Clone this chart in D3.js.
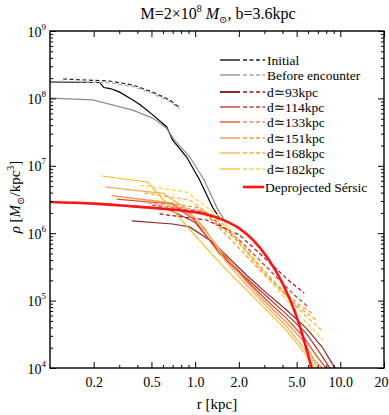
<!DOCTYPE html>
<html>
<head>
<meta charset="utf-8">
<script src="https://cdn.jsdelivr.net/npm/d3@7"></script>
<style>
  body { margin: 0; background: #fff; }
  svg text { font-family: "Liberation Serif", "Times New Roman", "DejaVu Serif", serif; fill: #000; }
</style>
</head>
<body>
<div id="chart"></div>
<script>
// profiles: [r (kpc), rho (Msun/kpc^3)]
var initialSolid = [[0.1, 1.75e8], [0.22, 1.72e8], [0.235, 1.45e8], [0.26, 1.4e8], [0.3, 1.25e8], [0.372, 9.5e7], [0.42, 8.0e7], [0.51, 5.7e7], [0.636, 3.8e7], [0.7, 2.4e7], [0.873, 1.35e7], [1.072, 6.2e6], [1.32, 2.4e6], [1.47, 1.7e6]]
var initialDashed = [[0.123, 1.94e8], [0.258, 1.81e8], [0.372, 1.58e8], [0.51, 1.24e8], [0.667, 9.5e7], [0.74, 8.0e7], [0.782, 7.3e7]]
var beforeSolid = [[0.1, 1.01e8], [0.197, 9.5e7], [0.372, 6.7e7], [0.51, 5.1e7], [0.636, 3.6e7], [0.72, 2.4e7], [0.92, 1.35e7], [1.15, 6.2e6], [1.44, 2.2e6], [1.62, 1.47e6]]
var beforeDashed = [[0.117, 1.8e8], [0.258, 1.7e8], [0.372, 1.5e8], [0.51, 1.18e8], [0.667, 9.0e7], [0.782, 7.0e7]]

var d93Solid = [[0.366, 1.52e6], [0.7, 1.37e6], [0.915, 1.24e6], [1.317, 7.4e5], [2.254, 2.4e5], [3.093, 1.3e5], [4.245, 7.3e4], [5.823, 3.9e4], [7.5, 2.05e4], [9.07, 1.04e4], [9.5, 9e3]]
var d93Dashed = [[0.569, 1.93e6], [1.198, 1.57e6], [2.018, 9.4e5], [3.243, 3.7e5], [4.449, 1.95e5], [5.642, 1.3e5]]
var d114Solid = [[0.327, 2.62e6], [0.667, 2.21e6], [0.991, 1.47e6], [1.471, 5.3e5], [2.254, 2.16e5], [3.093, 1.17e5], [4.245, 6.3e4], [5.823, 3.3e4], [7.153, 1.73e4], [8.377, 1.04e4], [8.8, 9e3]]
var d114Dashed = [[0.502, 2.62e6], [1.16, 2.06e6], [2.018, 7.9e5], [3.243, 2.85e5], [4.816, 1.21e5], [5.916, 8.3e4]]
var d133Solid = [[0.288, 3.21e6], [0.689, 2.71e6], [0.991, 1.57e6], [1.471, 5.0e5], [2.254, 2.02e5], [3.093, 1.02e5], [4.245, 5.5e4], [5.642, 2.79e4], [6.93, 1.46e4], [7.863, 1.04e4], [8.2, 9e3]]
var d133Dashed = [[0.471, 2.81e6], [1.072, 2.21e6], [1.865, 8.5e5], [3.243, 2.16e5], [5.212, 8.6e4], [6.404, 6.5e4]]
var d151Solid = [[0.265, 3.6e6], [0.7, 2.8e6], [1.0, 1.7e6], [1.5, 5.5e5], [2.254, 1.89e5], [3.093, 9.2e4], [4.245, 4.8e4], [5.642, 2.43e4], [6.607, 1.31e4], [7.383, 1.04e4], [7.7, 9e3]]
var d151Dashed = [[0.486, 3.11e6], [1.072, 2.37e6], [1.778, 7.9e5], [2.998, 2.4e5], [5.212, 7.8e4], [6.821, 5.2e4]]
var d168Solid = [[0.242, 4.84e6], [0.6, 3.9e6], [0.846, 2.4e6], [1.16, 1.2e6], [1.6, 4.0e5], [2.254, 1.7e5], [3.093, 8.3e4], [4.245, 4.2e4], [5.465, 2.12e4], [6.93, 1.04e4], [7.2, 9e3]]
var d168Dashed = [[0.449, 3.94e6], [0.915, 3.11e6], [1.592, 1.32e6], [2.769, 3.4e5], [5.212, 7.3e4], [7.383, 3.66e4]]
var d182Solid = [[0.228, 7.06e6], [0.471, 5.75e6], [0.7, 2.21e6], [1.02, 8.8e5], [1.592, 3.05e5], [2.254, 1.44e5], [3.093, 7.3e4], [4.245, 3.66e4], [5.465, 1.85e4], [6.607, 1.04e4], [6.9, 9e3]]
var d182Dashed = [[0.415, 5.19e6], [0.873, 4.08e6], [1.518, 1.68e6], [2.558, 3.7e5], [5.212, 6.1e4], [7.6, 2.6e4]]

var sersic = [[0.1, 2.9e6], [0.2, 2.75e6], [0.37, 2.5e6], [0.63, 2.29e6], [1.0, 2.04e6], [1.26, 1.84e6], [1.58, 1.55e6], [2.0, 1.19e6], [2.51, 7.9e5], [3.16, 4.3e5], [3.98, 1.84e5], [5.01, 5.7e4], [6.31, 1.04e4], [7.08, 3.7e3]]

var legendLabels = ['Initial', 'Before encounter', 'd\u224393kpc', 'd\u2243114kpc', 'd\u2243133kpc', 'd\u2243151kpc', 'd\u2243168kpc', 'd\u2243182kpc']
var solidColors = ['#000000', '#8c8c8c', '#8b2a2a', '#c0302a', '#e8441a', '#f58a48', '#f8aa55', '#ffba30']
var dashedColors = ['#262626', '#aaaaaa', '#a8141e', '#cc3a22', '#f08a60', '#f59a20', '#ffb018', '#ffd040']
var solidSeries = [initialSolid, beforeSolid, d93Solid, d114Solid, d133Solid, d151Solid, d168Solid, d182Solid]
var dashedSeries = [initialDashed, beforeDashed, d93Dashed, d114Dashed, d133Dashed, d151Dashed, d168Dashed, d182Dashed]

var xTicks = [0.2, 0.5, 1, 2, 5, 10, 20]
var xTickLabels = ['0.2', '0.5', '1.0', '2.0', '5.0', '10.0', '20']
var xMinor = [0.3, 0.4, 0.6, 0.7, 0.8, 0.9, 3, 4, 6, 7, 8, 9]
var yTicks = [1e4, 1e5, 1e6, 1e7, 1e8, 1e9]
var yExponents = ['4', '5', '6', '7', '8', '9']

var serif = 'Liberation Serif, Times New Roman, DejaVu Serif, serif'

var margin = { top: 31, left: 50, right: 5, bottom: 47 }
var width = 389 - margin.left - margin.right
var height = 415 - margin.top - margin.bottom

var root = d3
  .select('#chart')
  .append('svg')
  .attr('width', 389)
  .attr('height', 415)
  .style('font-family', serif)

var svg = root
  .append('g')
  .attr('transform', 'translate(' + margin.left + ',' + margin.top + ')')

var xPositionScale = d3.scaleLog().domain([0.1, 20]).range([0, width])
var yPositionScale = d3.scaleLog().domain([1e4, 1e9]).range([height, 0])

var yMinor = []
yTicks.slice(0, 5).forEach(function(d) {
  for (var k = 2; k <= 9; k++) yMinor.push(k * d)
})

svg
  .append('clipPath')
  .attr('id', 'plot-clip')
  .append('rect')
  .attr('width', width)
  .attr('height', height)

var line = d3
  .line()
  .x(function(d) {
    return xPositionScale(d[0])
  })
  .y(function(d) {
    return yPositionScale(d[1])
  })

var smoothLine = d3
  .line()
  .x(function(d) {
    return xPositionScale(d[0])
  })
  .y(function(d) {
    return yPositionScale(d[1])
  })
  .curve(d3.curveMonotoneX)

var plot = svg.append('g').attr('clip-path', 'url(#plot-clip)')

solidSeries.forEach(function(s, i) {
  plot
    .append('path')
    .datum(s)
    .attr('d', line)
    .attr('fill', 'none')
    .attr('stroke', solidColors[i])
    .attr('stroke-width', 1.2)
  plot
    .append('path')
    .datum(dashedSeries[i])
    .attr('d', line)
    .attr('fill', 'none')
    .attr('stroke', dashedColors[i])
    .attr('stroke-width', 1.2)
    .attr('stroke-dasharray', '4,2.5')
})

plot
  .append('path')
  .datum(sersic)
  .attr('d', smoothLine)
  .attr('fill', 'none')
  .attr('stroke', '#ff1414')
  .attr('stroke-width', 2.6)

// axes: ticks point inward on all four sides
function styleAxis(g) {
  g.attr('font-family', serif)
  g.select('.domain').remove()
  g.selectAll('line').attr('stroke', '#000').attr('stroke-width', 1)
}

svg
  .append('g')
  .attr('transform', 'translate(0,' + height + ')')
  .call(
    d3.axisBottom(xPositionScale)
      .tickValues(xTicks)
      .tickSize(-6)
      .tickPadding(9)
      .tickFormat(function(d, i) {
        return xTickLabels[i]
      })
  )
  .call(styleAxis)
  .selectAll('text')
  .attr('font-size', 14)
  .attr('dx', function(d, i) {
    return i === xTicks.length - 1 ? -3 : 0
  })

svg
  .append('g')
  .attr('transform', 'translate(0,' + height + ')')
  .call(d3.axisBottom(xPositionScale).tickValues(xMinor).tickSize(-3).tickFormat(''))
  .call(styleAxis)

svg
  .append('g')
  .call(d3.axisTop(xPositionScale).tickValues(xTicks).tickSize(-6).tickFormat(''))
  .call(styleAxis)
svg
  .append('g')
  .call(d3.axisTop(xPositionScale).tickValues(xMinor).tickSize(-3).tickFormat(''))
  .call(styleAxis)

var yAxis = svg
  .append('g')
  .call(d3.axisLeft(yPositionScale).tickValues(yTicks).tickSize(-6).tickFormat(''))
  .call(styleAxis)

yAxis.selectAll('.tick').each(function(d, i) {
  var t = d3
    .select(this)
    .append('text')
    .attr('x', -4)
    .attr('y', 5)
    .attr('text-anchor', 'end')
    .attr('font-size', 14)
  t.append('tspan').text('10')
  t.append('tspan')
    .attr('font-size', 9)
    .attr('dy', -7)
    .text(yExponents[i])
})

svg
  .append('g')
  .call(d3.axisLeft(yPositionScale).tickValues(yMinor).tickSize(-3).tickFormat(''))
  .call(styleAxis)
svg
  .append('g')
  .attr('transform', 'translate(' + width + ',0)')
  .call(d3.axisRight(yPositionScale).tickValues(yTicks).tickSize(-6).tickFormat(''))
  .call(styleAxis)
svg
  .append('g')
  .attr('transform', 'translate(' + width + ',0)')
  .call(d3.axisRight(yPositionScale).tickValues(yMinor).tickSize(-3).tickFormat(''))
  .call(styleAxis)

svg
  .append('rect')
  .attr('width', width)
  .attr('height', height)
  .attr('fill', 'none')
  .attr('stroke', '#000')
  .attr('stroke-width', 1.4)

// legend
var legend = svg.append('g').attr('transform', 'translate(' + (220 - margin.left) + ',0)')
var rowY = [29, 44, 61, 76, 91, 107, 122, 138]

legendLabels.forEach(function(label, i) {
  var g = legend.append('g').attr('transform', 'translate(0,' + rowY[i] + ')')
  g.append('line')
    .attr('x1', 0)
    .attr('x2', 20)
    .attr('stroke', solidColors[i])
    .attr('stroke-width', i === 2 ? 2 : 1.3)
  g.append('line')
    .attr('x1', 23)
    .attr('x2', 45)
    .attr('stroke', dashedColors[i])
    .attr('stroke-width', 1.3)
    .attr('stroke-dasharray', '4,2.5')
  g.append('text')
    .attr('x', 47)
    .attr('y', 4.5)
    .attr('font-size', 13.5)
    .text(label)
})

var sersicRow = legend.append('g').attr('transform', 'translate(0,156)')
sersicRow
  .append('line')
  .attr('x1', 23)
  .attr('x2', 44)
  .attr('stroke', '#ff1414')
  .attr('stroke-width', 2.6)
sersicRow
  .append('text')
  .attr('x', 45)
  .attr('y', 4.5)
  .attr('font-size', 13.5)
  .text('Deprojected Sérsic')

// title and axis labels
var title = root
  .append('text')
  .attr('x', 218)
  .attr('y', 19)
  .attr('text-anchor', 'middle')
  .attr('font-size', 16)
title.append('tspan').text('M=2\u00d710')
title.append('tspan').attr('font-size', 10).attr('dy', -7).text('8')
title.append('tspan').attr('dy', 7).attr('font-style', 'italic').text(' M')
title.append('tspan').attr('font-size', 10).attr('dy', 4).text('\u2299')
title.append('tspan').attr('dy', -4).text(', b=3.6kpc')

root
  .append('text')
  .attr('x', 217)
  .attr('y', 409)
  .attr('text-anchor', 'middle')
  .attr('font-size', 15)
  .text('r [kpc]')

var yLabel = root
  .append('text')
  .attr('transform', 'translate(20,197) rotate(-90)')
  .attr('text-anchor', 'middle')
  .attr('font-size', 15)
yLabel.append('tspan').attr('font-style', 'italic').text('\u03c1')
yLabel.append('tspan').text(' [')
yLabel.append('tspan').attr('font-style', 'italic').text('M')
yLabel.append('tspan').attr('font-size', 10).attr('dy', 4).text('\u2299')
yLabel.append('tspan').attr('dy', -4).text('/kpc')
yLabel.append('tspan').attr('font-size', 10).attr('dy', -6).text('3')
yLabel.append('tspan').attr('dy', 6).text(']')
</script>
</body>
</html>
